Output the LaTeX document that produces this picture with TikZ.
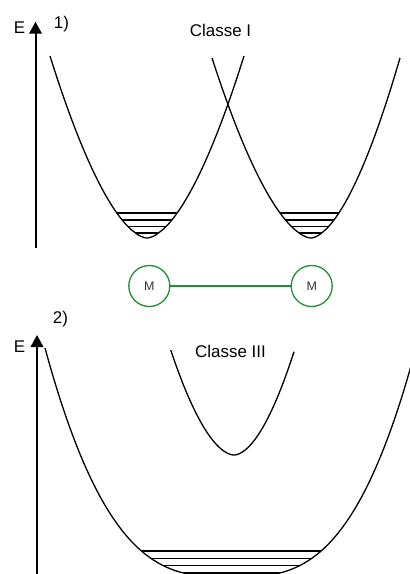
\documentclass[tikz,border=0pt]{standalone}
\usepackage{fontspec}
\setmainfont{Liberation Sans}
\usepackage{xcolor}
\usetikzlibrary{arrows.meta}
\definecolor{mgreen}{RGB}{35,140,55}

\begin{document}
\begin{tikzpicture}[x=1bp,y=-1bp,
    curve/.style={line width=1.3bp},
    level/.style={line width=1.3bp},
    axis/.style={line width=2bp,-{Triangle[width=12.5bp,length=12bp]}},
    lbl/.style={anchor=base,inner sep=0pt,font=\fontsize{17}{20}\selectfont},
    atom/.style={circle,draw=mgreen,line width=1.3bp,minimum size=41bp,inner sep=0pt,
      text=black!80,font=\fontsize{12.5}{14}\selectfont},
    bond/.style={mgreen,line width=1.3bp}]
  \useasboundingbox (0,0) rectangle (409,574);

  % 1) Classe I
  \coordinate (base1) at (35.5,248);
  \coordinate (tip1) at (35.5,21.7);
  \draw[axis] (base1) -- (tip1);
  \node[lbl] (e1) at (19.5,34) {E};
  \node[lbl] (n1) at (61.5,29) {1)};
  \node[lbl] (classI) at (220.5,36.5) {Classe I};
  \draw[curve] plot[domain=50:244,samples=120] (\x,{238-182*((abs(\x-147)+0.01)/97)^1.7});
  \draw[curve] plot[domain=212:400,samples=120] (\x,{238-180*((abs(\x-311)+0.01)/((\x<311)?99:89))^1.7});
  \begin{scope}
    \clip plot[domain=50:244,samples=120] (\x,{238-182*((abs(\x-147)+0.01)/97)^1.7}) -- cycle;
    \foreach \y in {213,220,226.5,233} \draw[level] (90,\y) -- (210,\y);
  \end{scope}
  \begin{scope}
    \clip plot[domain=212:400,samples=120] (\x,{238-180*((abs(\x-311)+0.01)/((\x<311)?99:89))^1.7}) -- cycle;
    \foreach \y in {213,220,226.5,233} \draw[level] (250,\y) -- (370,\y);
  \end{scope}

  % two metal centres
  \node[atom] (m1) at (149.3,286) {M};
  \node[atom] (m2) at (311.7,286) {M};
  \draw[bond] (m1) -- (m2);

  % 2) Classe III
  \coordinate (base2) at (37,576);
  \coordinate (tip2) at (37,335);
  \draw[axis] (base2) -- (tip2);
  \node[lbl] (e2) at (19.5,352) {E};
  \node[lbl] (n2) at (60.5,323) {2)};
  \node[lbl] (classIII) at (230.5,357) {Classe III};
  \draw[curve] plot[domain=45:415,samples=160] (\x,{577-((\x<232)?229:204)*((abs(\x-232)+0.01)/((\x<232)?187:177))^3});
  \draw[curve] plot[domain=170.7:294,samples=100] (\x,{455-((\x<234)?105:103.3)*((abs(\x-234)+0.01)/((\x<234)?63.3:60))^1.8});
  \begin{scope}
    \clip plot[domain=45:415,samples=160] (\x,{577-((\x<232)?229:204)*((abs(\x-232)+0.01)/((\x<232)?187:177))^3}) -- cycle;
    \foreach \y in {551,558.3,565.7,573} \draw[level] (100,\y) -- (360,\y);
  \end{scope}
\end{tikzpicture}
\end{document}
